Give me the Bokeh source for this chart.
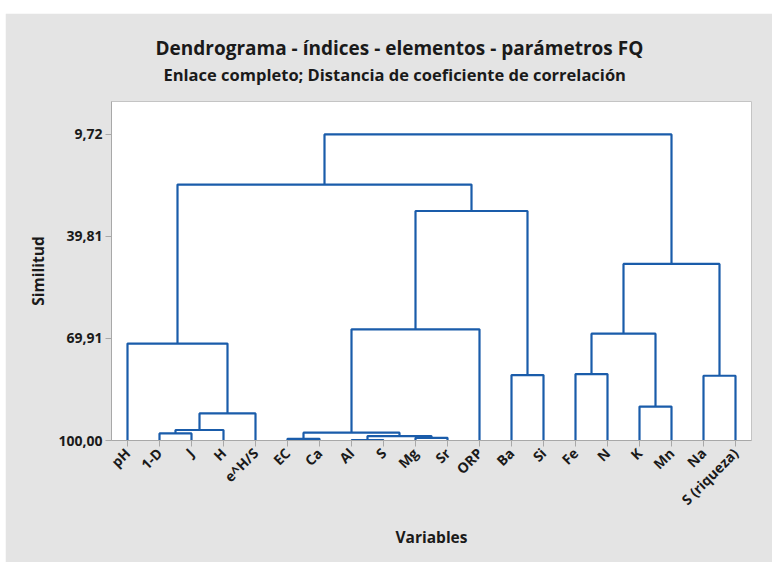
import math
from bokeh.plotting import figure
from bokeh.models import ColumnDataSource, Range1d, FixedTicker, Title
from bokeh.embed import file_html
from bokeh.resources import INLINE

# ---- data ----
variables = ["pH", "1-D", "J", "H", "e^H/S", "EC", "Ca", "Al", "S", "Mg", "Sr",
             "ORP", "Ba", "Si", "Fe", "N", "K", "Mn", "Na", "S (riqueza)"]

merge_names = ["C1", "C2", "C3", "C4", "C5", "C6", "C7", "C8", "C9", "C10",
               "C11", "C12", "C13", "C14", "C15", "C16", "C17", "C18", "C19"]
merge_left = ["Al", "EC", "Mg", "C1", "C2", "1-D", "C6", "C7", "K", "Na",
              "Ba", "Fe", "pH", "C12", "C5", "C14", "C15", "C13", "C18"]
merge_right = ["S", "Ca", "Sr", "C3", "C4", "J", "H", "e^H/S", "Mn", "S (riqueza)",
               "Si", "N", "C8", "C9", "ORP", "C10", "C11", "C17", "C16"]
similarity = [99.9, 99.5, 99.2, 98.7, 97.7, 97.9, 96.9, 92.0, 90.0, 80.9,
              80.7, 80.4, 71.4, 68.5, 67.2, 47.9, 32.3, 24.5, 9.72]

y_ticks = [9.72, 39.81, 69.91, 100.00]
y_tick_labels = ["9,72", "39,81", "69,91", "100,00"]

title_text = "Dendrograma - índices - elementos - parámetros FQ"
subtitle_text = "Enlace completo; Distancia de coeficiente de correlación"

# ---- build dendrogram segments from the linkage ----
pos = {name: i + 1 for i, name in enumerate(variables)}
level = {name: 100.0 for name in variables}
xs, ys = [], []
for name, l, r, s in zip(merge_names, merge_left, merge_right, similarity):
    xl, xr = pos[l], pos[r]
    xs.append([xl, xl, xr, xr])
    ys.append([level[l], s, s, level[r]])
    pos[name] = (xl + xr) / 2.0
    level[name] = s

src = ColumnDataSource(dict(xs=xs, ys=ys))

FONT = "Open Sans"
BG = "#e4e4e4"
BLUE = "#1a5caa"
TXT = "#1a1a1a"

p = figure(width=767, height=549,
           x_range=Range1d(0.5, len(variables) + 0.5),
           y_range=Range1d(100, 0),
           output_backend="svg", toolbar_location=None,
           min_border_left=106, min_border_right=21,
           min_border_top=88, min_border_bottom=122)
p.margin = (13, 0, 0, 5)

p.multi_line(xs="xs", ys="ys", source=src, line_color=BLUE, line_width=2.2)

p.background_fill_color = "white"
p.border_fill_color = BG
p.outline_line_color = "#c4c4c4"
p.outline_line_width = 1
p.xgrid.visible = False
p.ygrid.visible = False

# spacer between plot frame and subtitle
spacer = Title(text=" ", text_font=FONT, text_font_size="2px", standoff=11)
p.add_layout(spacer, "above")
sub = Title(text=subtitle_text, align="left", offset=52, text_font=FONT,
            text_font_size="16.5px", text_font_style="bold", text_color=TXT,
            standoff=0)
p.add_layout(sub, "above")
main = Title(text=title_text, align="left", offset=44, text_font=FONT,
             text_font_size="19px", text_font_style="bold", text_color=TXT,
             standoff=0)
p.add_layout(main, "above")

for ax in (p.xaxis[0], p.yaxis[0]):
    ax.axis_line_color = "#a8a8a8"
    ax.major_tick_line_color = "#a8a8a8"
    ax.major_tick_out = 6
    ax.major_tick_in = 0
    ax.minor_tick_line_color = None
    ax.major_label_text_font = FONT
    ax.major_label_text_font_size = "14px"
    ax.major_label_text_font_style = "bold"
    ax.major_label_text_color = TXT
    ax.axis_label_text_font = FONT
    ax.axis_label_text_font_size = "15.5px"
    ax.axis_label_text_font_style = "bold"
    ax.axis_label_text_color = TXT

p.xaxis.ticker = FixedTicker(ticks=list(range(1, len(variables) + 1)))
p.xaxis.major_label_overrides = {i + 1: v for i, v in enumerate(variables)}
p.xaxis.major_label_orientation = math.pi / 4
p.xaxis.major_label_standoff = 4
p.xaxis.axis_label = "Variables"
p.xaxis.axis_label_standoff = 7

p.yaxis.ticker = FixedTicker(ticks=y_ticks)
p.yaxis.major_label_overrides = {t: l for t, l in zip(y_ticks, y_tick_labels)}
p.yaxis.major_label_standoff = 3
p.yaxis.axis_label = "Similitud"
p.yaxis.axis_label_standoff = 6

open("out.html", "w").write(file_html(p, INLINE))
